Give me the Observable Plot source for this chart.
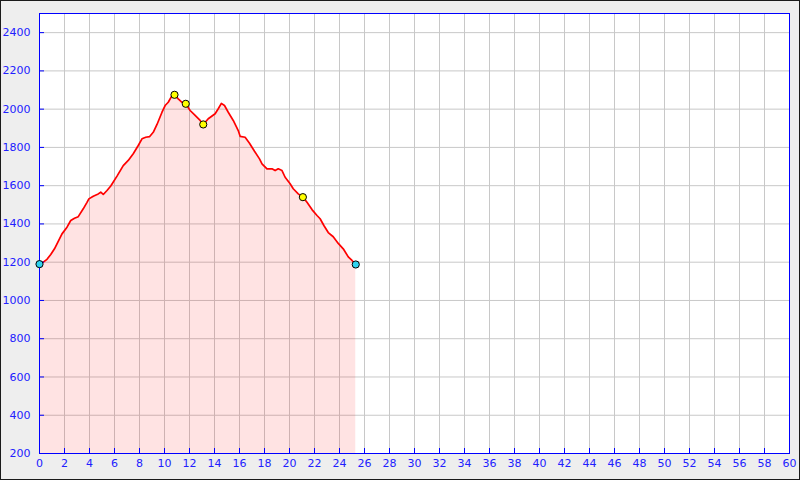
<!DOCTYPE html>
<html>
<head>
<meta charset="utf-8">
<script src="https://cdn.jsdelivr.net/npm/d3@7"></script>
<script src="https://cdn.jsdelivr.net/npm/@observablehq/plot@0.6"></script>
<style>
  html, body { margin: 0; padding: 0; background: #eeeeee; }
  #wrap { position: relative; width: 800px; height: 480px; }
  #border { position: absolute; left: 0; top: 0; width: 800px; height: 480px; box-sizing: border-box; border: 1px solid #1a1a1a; pointer-events: none; }
  #chart svg text { font-family: "DejaVu Sans", sans-serif !important; font-size: 11px !important; }
</style>
</head>
<body>
<div id="wrap"><div id="chart"></div><div id="border"></div></div>
<script>
// Elevation profile (distance in km, elevation in m)
const dist = [0, 0.3, 0.6, 0.9, 1.2, 1.4, 1.8, 2.2, 2.5, 2.8, 3.1, 3.5, 3.8, 3.95, 4.3, 4.7, 4.9, 5.1, 5.4, 5.7,
  6.2, 6.7, 7.1, 7.5, 7.9, 8.2, 8.5, 8.8, 9.1, 9.4, 9.8, 10.05, 10.3, 10.6, 10.8, 11.1, 11.4, 11.7, 12.05, 12.45,
  12.85, 13.1, 13.5, 14.05, 14.3, 14.55, 14.8, 15.1, 15.5, 15.9, 16.05, 16.45, 16.8, 17.2, 17.6, 17.8, 18.2, 18.6,
  18.85, 19.1, 19.4, 19.65, 20.05, 20.3, 20.7, 21.07, 21.4, 21.8, 22.2, 22.45, 22.75, 23.1, 23.5, 23.9, 24.3, 24.7, 25.0, 25.3];
const elev = [1190, 1200, 1215, 1240, 1270, 1296, 1348, 1383, 1418, 1430, 1438, 1479, 1513, 1531, 1545, 1557, 1566, 1554, 1575, 1598,
  1650, 1705, 1732, 1767, 1810, 1845, 1853, 1856, 1879, 1920, 1984, 2019, 2036, 2071, 2075, 2054, 2036, 2028, 1993, 1967,
  1941, 1920, 1950, 1976, 2002, 2030, 2019, 1984, 1941, 1888, 1858, 1853, 1822, 1780, 1740, 1714, 1688, 1688,
  1679, 1688, 1679, 1644, 1610, 1584, 1557, 1540, 1513, 1475, 1444, 1427, 1392, 1355, 1333, 1298, 1270, 1228, 1209, 1188];

// Waypoint markers
const markerDist = [0, 10.8, 11.7, 13.1, 21.07, 25.3];
const markerElev = [1190, 2075, 2028, 1920, 1540, 1188];
const markerColor = ["#2fd3ef", "#ffff00", "#ffff00", "#ffff00", "#ffff00", "#2fd3ef"];

// Axis ticks
const xTicks = d3.range(0, 61, 2);
const yTicks = d3.range(200, 2401, 200);

const profile = dist.map((d, i) => ({d, e: elev[i]}));
const markers = markerDist.map((d, i) => ({d, e: markerElev[i], c: markerColor[i]}));

const labelColor = "#2020ff";

const chart = Plot.plot({
  width: 800,
  height: 480,
  marginLeft: 39,
  marginRight: 11,
  marginTop: 13,
  marginBottom: 27,
  style: { background: "#eeeeee", fontFamily: "DejaVu Sans, sans-serif", fontSize: "11px" },
  x: { domain: [0, 60] },
  y: { domain: [200, 2500] },
  marks: [
    Plot.frame({ fill: "white", stroke: "none" }),
    Plot.gridX(xTicks, { stroke: "#c8c8c8", strokeOpacity: 1 }),
    Plot.gridY(yTicks, { stroke: "#c8c8c8", strokeOpacity: 1 }),
    Plot.areaY(profile, { x: "d", y1: 200, y2: "e", fill: "red", fillOpacity: 0.11 }),
    Plot.line(profile, { x: "d", y: "e", stroke: "red", strokeWidth: 1.7 }),
    Plot.frame({ stroke: "blue", strokeWidth: 1 }),
    Plot.axisX(xTicks, { tickSize: -5, tickPadding: 11, stroke: "blue", label: null, fill: labelColor, tickFormat: "d" }),
    Plot.axisY(yTicks, { tickSize: -5, tickPadding: 14, stroke: "blue", label: null, fill: labelColor, tickFormat: "d" }),
    Plot.dot(markers, { x: "d", y: "e", r: 3.6, fill: "c", stroke: "black", strokeWidth: 1 })
  ]
});
document.getElementById("chart").appendChild(chart);
</script>
</body>
</html>
